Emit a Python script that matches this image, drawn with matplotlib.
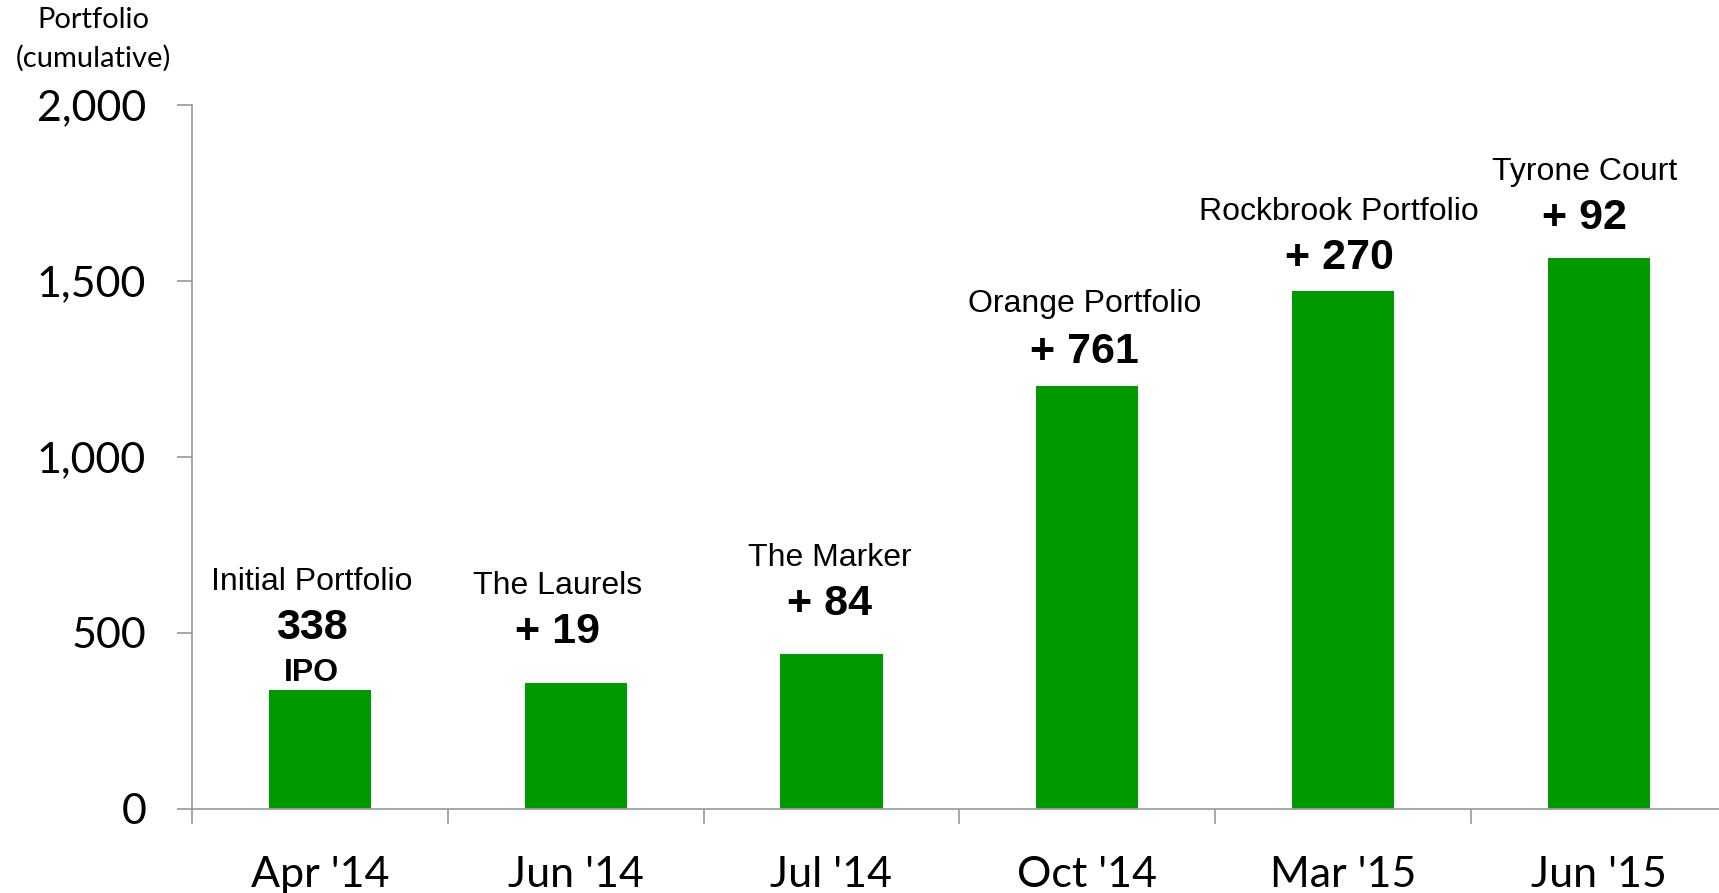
import matplotlib
matplotlib.use("Agg")
import matplotlib.pyplot as plt
from matplotlib.ticker import FuncFormatter, FixedLocator

# ---- data ----
categories = ["Apr '14", "Jun '14", "Jul '14", "Oct '14", "Mar '15", "Jun '15"]
additions = [338, 19, 84, 761, 270, 92]
cumulative = [338, 357, 441, 1202, 1472, 1564]
names = ["Initial Portfolio", "The Laurels", "The Marker", "Orange Portfolio",
         "Rockbrook Portfolio", "Tyrone Court"]
value_labels = ["338", "+ 19", "+ 84", "+ 761", "+ 270", "+ 92"]
y_ticks = [0, 500, 1000, 1500, 2000]

# ---- style ----
px = 0.72  # points per pixel at dpi 100
name_up = [108, 97, 96, 82, 79, 86]
value_up = [62, 51, 50, 34, 33, 40]
label_dx = [-8, -18, -2, -3, -4, -14]
bar_color = "#009900"
axis_color = "#a0a0a0"
tick_font = "Lato"
ann_font = "Liberation Sans"

fig = plt.figure(figsize=(17.19, 8.93), dpi=100)
ax = fig.add_axes([192/1719, 1 - 809/893, 1 - 192/1719, (809 - 105)/893])

x = list(range(len(categories)))
ax.bar(x, cumulative, width=0.4, color=bar_color, zorder=2)

ax.set_ylim(0, 2000)
ax.set_xlim(-0.5, 5.47)
ax.set_yticks(y_ticks)
ax.yaxis.set_major_formatter(FuncFormatter(lambda v, p: f"{int(v):,}"))

ax.set_xticks(x)
ax.set_xticklabels(categories)
ax.xaxis.set_minor_locator(FixedLocator([i - 0.5 for i in range(len(categories))]))

for s in ["top", "right"]:
    ax.spines[s].set_visible(False)
for s in ["left", "bottom"]:
    ax.spines[s].set_color(axis_color)
    ax.spines[s].set_linewidth(1.3)

ax.tick_params(axis="x", which="major", length=0, pad=34, labelsize=31)
ax.tick_params(axis="x", which="minor", length=11, width=1.3, color=axis_color, direction="out")
ax.tick_params(axis="y", which="major", length=11, width=1.3, color=axis_color,
               direction="out", pad=22, labelsize=31)
for lab in ax.get_xticklabels() + ax.get_yticklabels():
    lab.set_fontfamily(tick_font)

for i in range(len(categories)):
    ax.annotate(names[i], (x[i], cumulative[i]), xytext=(label_dx[i]*px, name_up[i]*px),
                textcoords="offset points", ha="center", va="center",
                fontsize=23, family=ann_font, color="black")
    ax.annotate(value_labels[i], (x[i], cumulative[i]), xytext=(label_dx[i]*px, value_up[i]*px),
                textcoords="offset points", ha="center", va="center",
                fontsize=31, fontweight="bold", family=ann_font, color="black")
ax.annotate("IPO", (x[0], cumulative[0]), xytext=(label_dx[0]*px, 17*px),
            textcoords="offset points", ha="center", va="center",
            fontsize=23, fontweight="bold", family=ann_font, color="black")

fig.text(93/1719, 1 - 20/893, "Portfolio", ha="center", va="center",
         fontsize=21, family=tick_font)
fig.text(93/1719, 1 - 58/893, "(cumulative)", ha="center", va="center",
         fontsize=21, family=tick_font)

fig.savefig("out.png", dpi=100)
